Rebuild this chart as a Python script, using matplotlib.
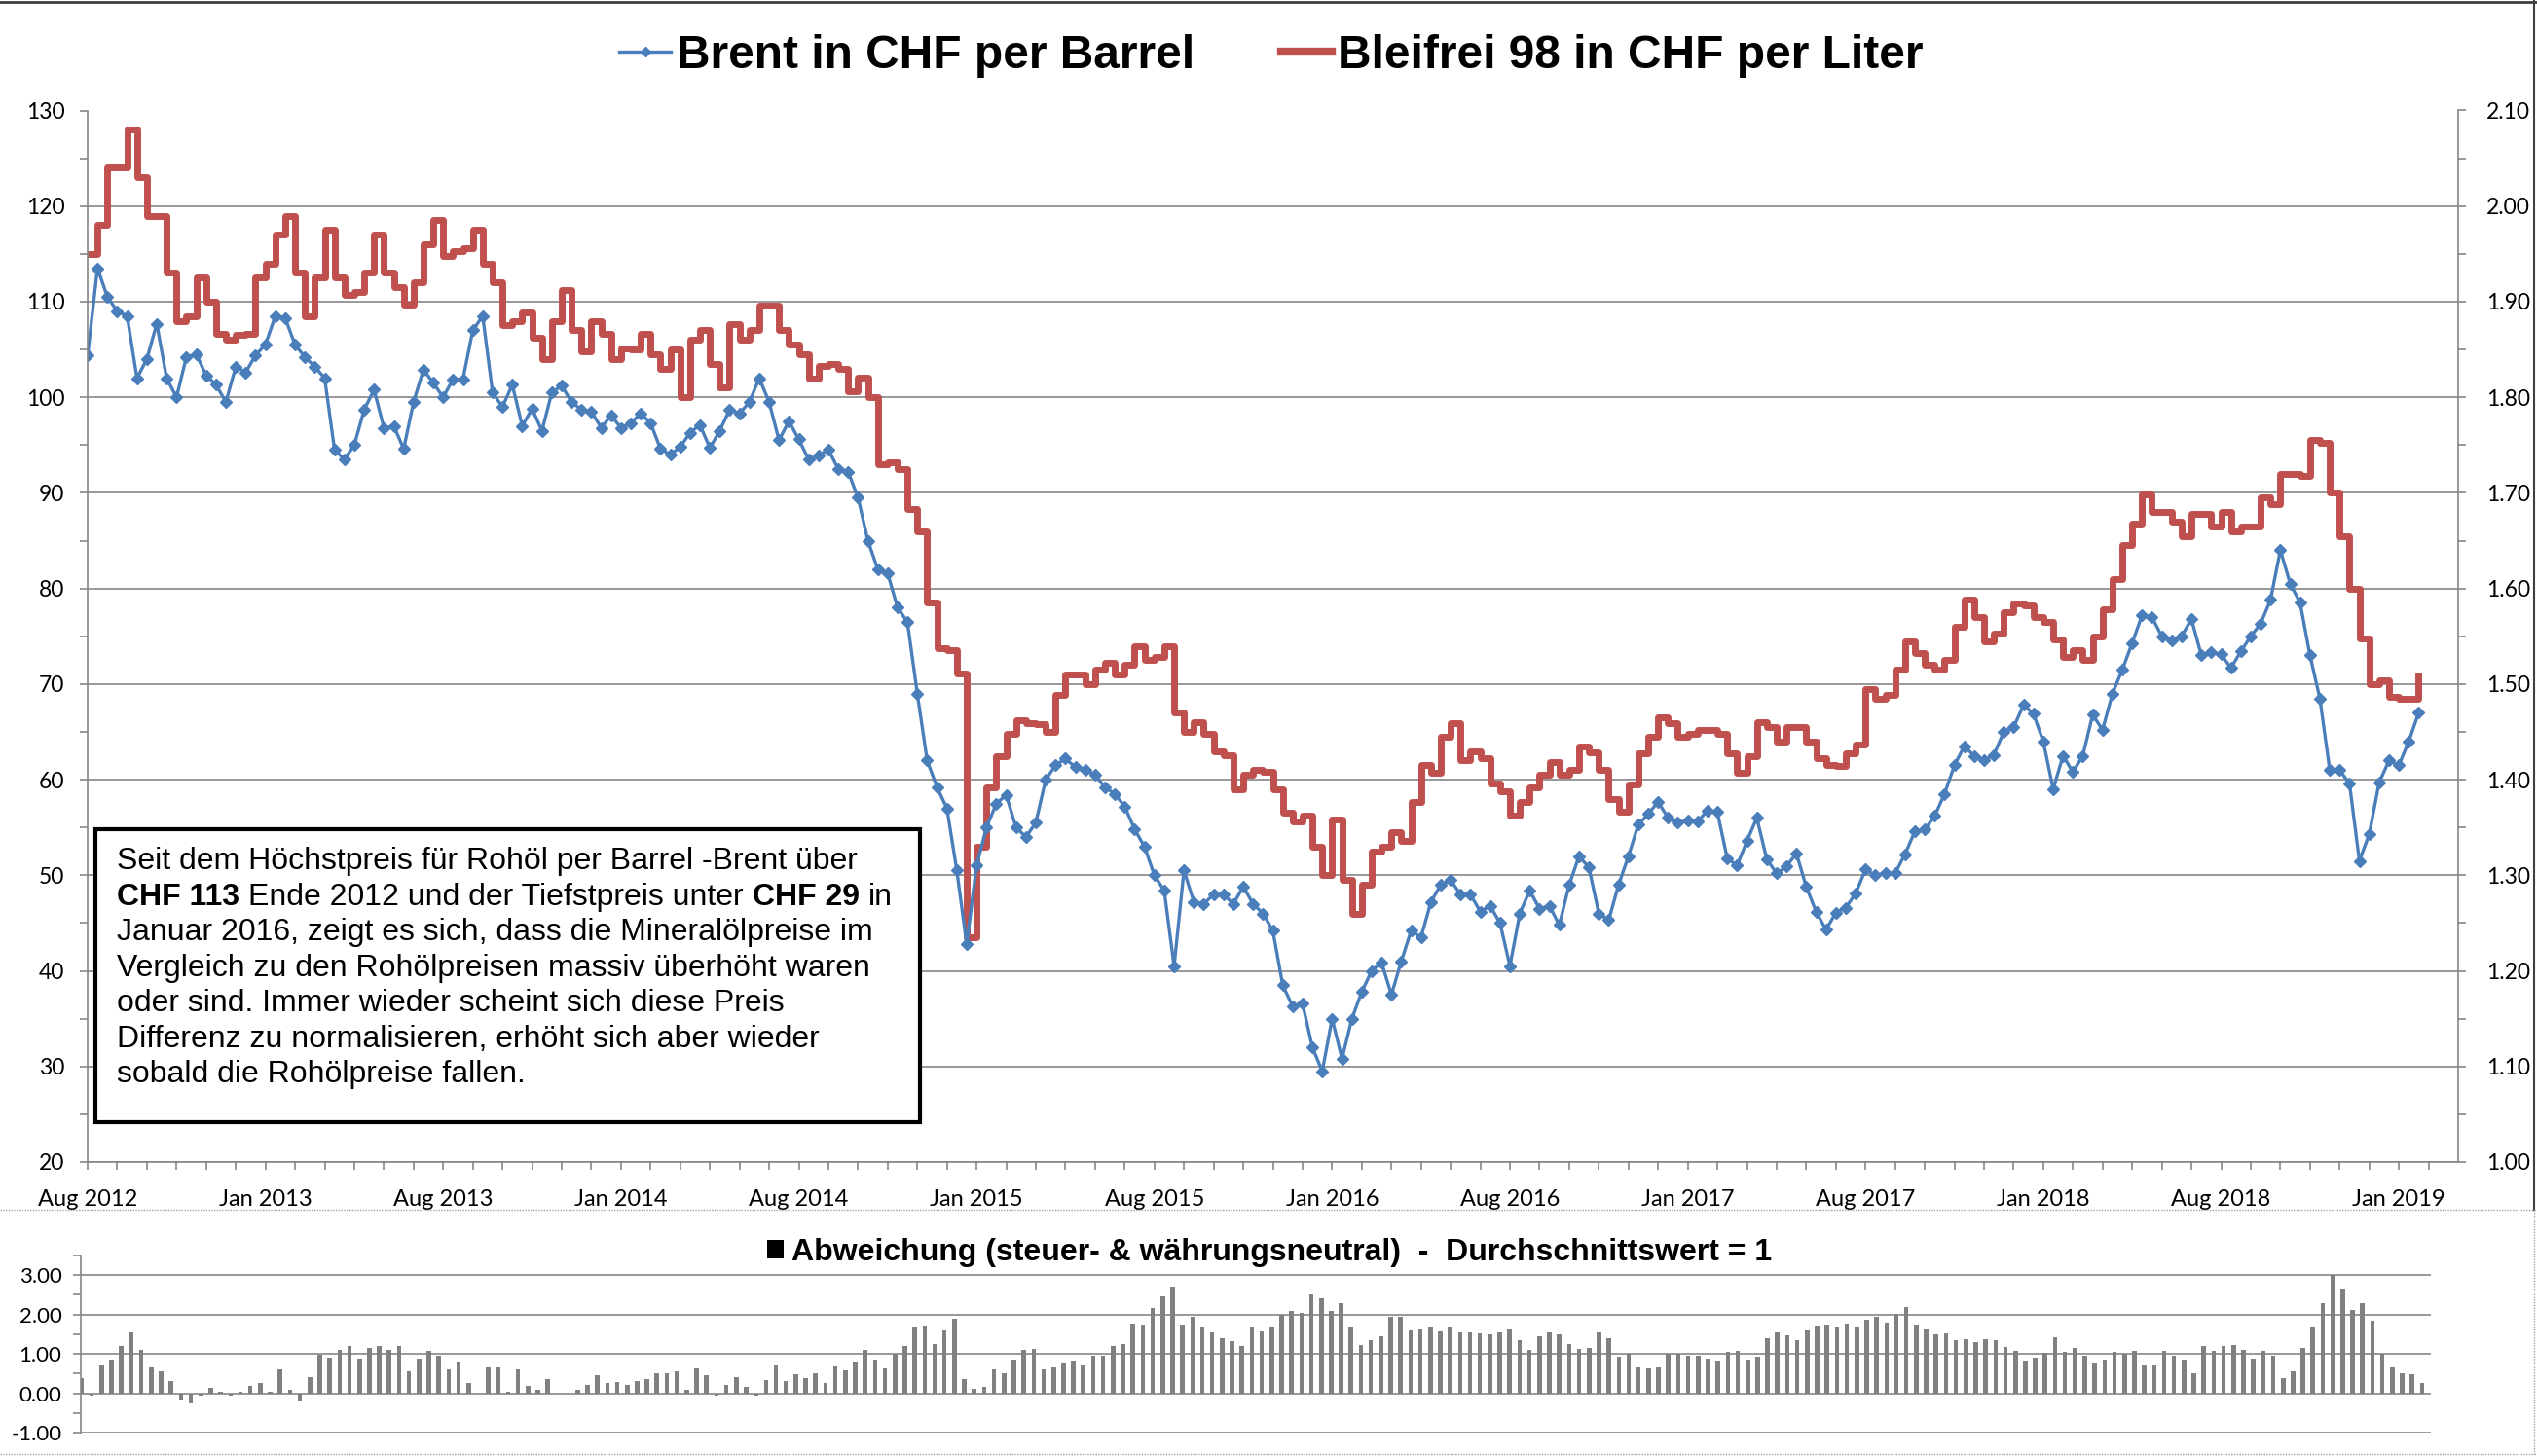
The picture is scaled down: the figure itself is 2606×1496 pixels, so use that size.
import numpy as np
import matplotlib.pyplot as plt
from matplotlib.lines import Line2D
from matplotlib.patches import Rectangle, Patch
from matplotlib.ticker import FixedLocator, MultipleLocator, FormatStrFormatter

W, H, DPI = 2606, 1496, 100

# --- Daten: 3 Werte pro Teilstrich, Beschriftung alle 18 Werte ---
month_labels = ["Aug 2012", "Jan 2013", "Aug 2013", "Jan 2014", "Aug 2014", "Jan 2015",
                "Aug 2015", "Jan 2016", "Aug 2016", "Jan 2017", "Aug 2017", "Jan 2018",
                "Aug 2018", "Jan 2019"]

# Brent in CHF pro Barrel (linke Achse)
brent_chf = [
    104.4, 113.5, 110.5, 109, 108.5, 102, 104, 107.7, 102, 100, 104.2, 104.5, 102.3, 101.3, 99.5, 103.2, 102.6, 104.4,
    105.5, 108.5, 108.3, 105.5, 104.2, 103.2, 102, 94.5, 93.5, 95, 98.7, 100.8, 96.8, 97, 94.6, 99.5, 102.9, 101.5,
    100, 101.9, 101.9, 107, 108.5, 100.5, 99, 101.3, 97, 98.8, 96.5, 100.5, 101.2, 99.5, 98.7, 98.5, 96.8, 98.1,
    96.8, 97.3, 98.3, 97.3, 94.6, 94, 94.8, 96.3, 97.1, 94.7, 96.5, 98.7, 98.3, 99.5, 102, 99.5, 95.5, 97.5,
    95.6, 93.5, 93.9, 94.5, 92.5, 92.2, 89.5, 85, 82, 81.6, 78, 76.5, 69, 62, 59.2, 57, 50.5, 42.8,
    51, 55, 57.5, 58.4, 55, 54, 55.5, 60, 61.5, 62.2, 61.3, 61, 60.5, 59.2, 58.5, 57.2, 54.8, 53,
    50, 48.4, 40.5, 50.5, 47.2, 47, 48, 48, 47, 48.8, 47, 46, 44.2, 38.5, 36.3, 36.6, 32, 29.5,
    35, 30.8, 35, 37.8, 40, 40.9, 37.5, 41, 44.2, 43.5, 47.2, 49, 49.5, 48, 48, 46.2, 46.8, 45,
    40.5, 46, 48.4, 46.5, 46.8, 44.8, 49, 52, 50.8, 46, 45.3, 49, 52, 55.3, 56.4, 57.7, 56, 55.5,
    55.7, 55.6, 56.8, 56.6, 51.8, 51, 53.6, 56, 51.7, 50.2, 50.9, 52.3, 48.8, 46.2, 44.3, 46.1, 46.6, 48.1,
    50.6, 50, 50.2, 50.2, 52.2, 54.6, 54.8, 56.2, 58.5, 61.5, 63.5, 62.5, 62, 62.6, 65, 65.5, 67.8, 66.9,
    64, 59, 62.5, 60.8, 62.5, 66.8, 65.2, 69, 71.5, 74.3, 77.2, 77, 75, 74.6, 75, 76.8, 73, 73.3,
    73.1, 71.7, 73.4, 75, 76.3, 78.8, 84, 80.5, 78.5, 73, 68.5, 61, 61, 59.6, 51.5, 54.3, 59.7, 62,
    61.5, 64, 67,
]

# Bleifrei 98 in CHF pro Liter (rechte Achse)
bleifrei_chf = [
    1.95, 1.98, 2.04, 2.04, 2.08, 2.03, 1.99, 1.99, 1.93, 1.88, 1.885, 1.925, 1.90, 1.866, 1.86, 1.865, 1.866, 1.925,
    1.94, 1.97, 1.99, 1.93, 1.885, 1.925, 1.975, 1.925, 1.907, 1.91, 1.93, 1.97, 1.93, 1.915, 1.897, 1.92, 1.96, 1.985,
    1.948, 1.953, 1.956, 1.975, 1.94, 1.92, 1.876, 1.88, 1.889, 1.862, 1.84, 1.88, 1.912, 1.87, 1.848, 1.88, 1.866, 1.84,
    1.851, 1.85, 1.866, 1.845, 1.83, 1.85, 1.80, 1.86, 1.87, 1.835, 1.81, 1.877, 1.86, 1.87, 1.896, 1.896, 1.87, 1.855,
    1.845, 1.82, 1.833, 1.835, 1.83, 1.806, 1.821, 1.80, 1.73, 1.732, 1.725, 1.683, 1.66, 1.585, 1.538, 1.536, 1.511, 1.235,
    1.33, 1.392, 1.425, 1.448, 1.462, 1.459, 1.458, 1.45, 1.489, 1.51, 1.51, 1.50, 1.515, 1.522, 1.51, 1.52, 1.54, 1.525,
    1.528, 1.54, 1.47, 1.45, 1.46, 1.448, 1.43, 1.426, 1.39, 1.405, 1.41, 1.408, 1.39, 1.365, 1.356, 1.362, 1.33, 1.30,
    1.358, 1.295, 1.26, 1.29, 1.325, 1.33, 1.345, 1.336, 1.377, 1.415, 1.407, 1.445, 1.459, 1.42, 1.43, 1.422, 1.396, 1.388,
    1.362, 1.377, 1.392, 1.405, 1.418, 1.405, 1.41, 1.435, 1.429, 1.41, 1.38, 1.366, 1.395, 1.428, 1.445, 1.465, 1.459, 1.445,
    1.448, 1.452, 1.452, 1.448, 1.428, 1.407, 1.425, 1.46, 1.455, 1.44, 1.455, 1.455, 1.44, 1.422, 1.415, 1.414, 1.428, 1.437,
    1.495, 1.485, 1.489, 1.515, 1.545, 1.532, 1.52, 1.515, 1.525, 1.56, 1.588, 1.57, 1.545, 1.553, 1.575, 1.584, 1.582, 1.57,
    1.565, 1.547, 1.528, 1.535, 1.525, 1.55, 1.578, 1.61, 1.645, 1.668, 1.698, 1.68, 1.68, 1.67, 1.655, 1.678, 1.678, 1.665,
    1.68, 1.66, 1.665, 1.665, 1.695, 1.688, 1.72, 1.72, 1.718, 1.755, 1.752, 1.70, 1.655, 1.60, 1.548, 1.50, 1.504, 1.487,
    1.485, 1.485, 1.508,
]

# Abweichung (steuer- & waehrungsneutral), Durchschnitt = 1
abweichung = [
    0.39, -0.05, 0.72, 0.85, 1.21, 1.55, 1.1, 0.66, 0.55, 0.3, -0.15, -0.25, -0.05, 0.14, 0.05, -0.07, 0.05, 0.18,
    0.26, 0.05, 0.6, 0.1, -0.19, 0.41, 0.97, 0.9, 1.1, 1.2, 0.88, 1.15, 1.2, 1.1, 1.2, 0.55, 0.88, 1.08,
    0.95, 0.6, 0.8, 0.25, 0, 0.65, 0.65, 0.05, 0.6, 0.18, 0.1, 0.35, 0, 0, 0.1, 0.22, 0.45, 0.25,
    0.28, 0.2, 0.3, 0.35, 0.52, 0.5, 0.55, 0.1, 0.62, 0.45, -0.05, 0.2, 0.42, 0.15, -0.05, 0.33, 0.72, 0.3,
    0.48, 0.39, 0.5, 0.26, 0.68, 0.58, 0.8, 1.1, 0.85, 0.64, 1.0, 1.2, 1.7, 1.72, 1.25, 1.6, 1.9, 0.35,
    0.12, 0.15, 0.6, 0.5, 0.85, 1.1, 1.12, 0.6, 0.66, 0.77, 0.82, 0.7, 0.95, 0.95, 1.2, 1.25, 1.78, 1.75,
    2.17, 2.45, 2.7, 1.75, 1.95, 1.7, 1.55, 1.4, 1.32, 1.2, 1.7, 1.57, 1.7, 2.0, 2.1, 2.05, 2.5, 2.4,
    2.1, 2.28, 1.7, 1.22, 1.35, 1.45, 1.95, 1.95, 1.6, 1.65, 1.7, 1.58, 1.7, 1.55, 1.55, 1.52, 1.5, 1.55,
    1.62, 1.34, 1.1, 1.45, 1.55, 1.5, 1.26, 1.13, 1.15, 1.55, 1.4, 0.92, 1.0, 0.65, 0.64, 0.66, 1.0, 1.0,
    0.96, 0.95, 0.88, 0.82, 1.05, 1.08, 0.85, 0.92, 1.4, 1.55, 1.48, 1.35, 1.6, 1.73, 1.75, 1.7, 1.78, 1.7,
    1.88, 1.95, 1.8, 2.02, 2.2, 1.75, 1.65, 1.5, 1.52, 1.35, 1.38, 1.3, 1.38, 1.35, 1.17, 1.07, 0.82, 0.9,
    1.03, 1.42, 1.05, 1.15, 0.95, 0.78, 0.85, 1.05, 1.0, 1.08, 0.7, 0.72, 1.08, 0.95, 0.86, 0.5, 1.2, 1.07,
    1.21, 1.22, 1.1, 0.88, 1.07, 0.95, 0.39, 0.55, 1.15, 1.7, 2.3, 3.0, 2.67, 2.12, 2.3, 1.85, 1.0, 0.65,
    0.52, 0.48, 0.26,
]

info_lines = [
    [("Seit dem Höchstpreis für Rohöl per Barrel -Brent über", False)],
    [("CHF 113", True), ("Ende 2012 und der Tiefstpreis unter", False), ("CHF 29", True), ("in", False)],
    [("Januar 2016, zeigt es sich, dass die Mineralölpreise im", False)],
    [("Vergleich zu den Rohölpreisen massiv überhöht waren", False)],
    [("oder sind. Immer wieder scheint sich diese Preis", False)],
    [("Differenz zu normalisieren, erhöht sich aber wieder", False)],
    [("sobald die Rohölpreise fallen.", False)],
]

BLUE = '#4a7ebb'
RED = '#c0504d'
GREY = '#868686'
BARS = '#808080'
SANS = ['Liberation Sans', 'DejaVu Sans']

plt.rcParams['font.family'] = ['Lato', 'DejaVu Sans']


def fx(px):
    return px / W


def fy(py):
    return 1 - py / H


fig = plt.figure(figsize=(W / DPI, H / DPI), dpi=DPI, facecolor='white')

# --- Hauptdiagramm ---
axr = fig.add_axes([fx(90), fy(1194), (2525 - 90) / W, (1194 - 113.5) / H])
ax = axr.twinx()
# Brent oben, Gitter und Bleifrei darunter
ax.set_zorder(axr.get_zorder() + 1)
ax.patch.set_visible(False)
ax.yaxis.tick_left()
ax.yaxis.set_label_position('left')
axr.yaxis.tick_right()

x = np.arange(len(brent_chf))
axr.plot(x, bleifrei_chf, color=RED, lw=5, drawstyle='steps-post')
ax.plot(x, brent_chf, color=BLUE, lw=2.4, marker='D', ms=6, mec=BLUE, mfc=BLUE)

ax.set_xlim(0, 240)
ax.set_ylim(20, 130)
axr.set_ylim(1.0, 2.1)

ax.yaxis.set_major_locator(MultipleLocator(10))
ax.yaxis.set_minor_locator(MultipleLocator(5))
axr.yaxis.set_major_locator(MultipleLocator(0.1))
axr.yaxis.set_minor_locator(MultipleLocator(0.05))
axr.yaxis.set_major_formatter(FormatStrFormatter('%.2f'))
axr.grid(axis='y', which='major', color=GREY, lw=1.2)
axr.set_axisbelow(True)

axr.set_xticks(np.arange(0, 235, 18))
axr.set_xticklabels(month_labels)
axr.xaxis.set_minor_locator(FixedLocator(np.arange(0, 240, 3)))

for a in (ax, axr):
    for s in a.spines.values():
        s.set_visible(False)
    a.tick_params(which='both', direction='out', color=GREY, width=1.2, length=6,
                  labelsize=16.5, labelcolor='black')
ax.spines['left'].set_visible(True)
ax.spines['left'].set_color(GREY)
ax.spines['left'].set_linewidth(1.2)
axr.spines['right'].set_visible(True)
axr.spines['right'].set_color(GREY)
axr.spines['right'].set_linewidth(1.2)
axr.spines['bottom'].set_visible(True)
axr.spines['bottom'].set_color(GREY)
axr.spines['bottom'].set_linewidth(1.2)
ax.tick_params(axis='y', pad=11)
axr.tick_params(axis='y', pad=15)
axr.tick_params(axis='x', labelsize=17, pad=14)
ax.tick_params(axis='x', which='both', bottom=False, labelbottom=False)

fig.legend(handles=[Line2D([], [], color=BLUE, lw=2.4, marker='D', ms=5.5),
                    Line2D([], [], color=RED, lw=6)],
           labels=["Brent in CHF per Barrel", "Bleifrei 98 in CHF per Liter"],
           loc='center', bbox_to_anchor=(fx(1306), fy(57)), ncol=2, frameon=False,
           prop={'family': SANS, 'weight': 'bold', 'size': 34.5},
           handlelength=1.1, handletextpad=0.12, columnspacing=1.85)

# --- Textkasten ---
fig.add_artist(Rectangle((fx(98), fy(1153)), (945 - 98) / W, (1153 - 852) / H,
                         transform=fig.transFigure, fc='white', ec='black', lw=3, zorder=5))
renderer = fig.canvas.get_renderer()
box_kw = dict(fontsize=23, family=SANS, va='baseline', ha='left', zorder=6)


def text_width(s, **kw):
    t = fig.text(0, 0, s, **kw)
    w = t.get_window_extent(renderer).width
    t.remove()
    return w


space_w = text_width('x x', **box_kw) - text_width('xx', **box_kw)
for i, parts in enumerate(info_lines):
    xp = 120.5
    yp = 893.5 + i * 36.4
    for s, bold in parts:
        t = fig.text(fx(xp), fy(yp), s, fontweight='bold' if bold else 'normal', **box_kw)
        xp += t.get_window_extent(renderer).width + space_w

# --- Abweichung ---
axb = fig.add_axes([fx(83), fy(1472), (2497 - 83) / W, (1472 - 1290) / H])
xb = np.arange(len(abweichung))
axb.bar(xb, abweichung, width=0.45, color=BARS, lw=0)
axb.set_xlim(-0.1, 236.9)
axb.set_ylim(-1, 3.5)
axb.yaxis.set_major_locator(FixedLocator([-1, 0, 1, 2, 3]))
axb.yaxis.set_minor_locator(MultipleLocator(0.5))
axb.yaxis.set_major_formatter(FormatStrFormatter('%.2f'))
axb.grid(axis='y', which='major', color=GREY, lw=1.2)
axb.set_axisbelow(True)
axb.set_xticks([])
for s in ('top', 'right', 'bottom'):
    axb.spines[s].set_visible(False)
axb.spines['left'].set_color(GREY)
axb.spines['left'].set_linewidth(1.2)
axb.tick_params(axis='y', which='both', direction='out', color=GREY, width=1.2, length=6,
                labelsize=16, pad=8)

fig.legend(handles=[Patch(facecolor='black', edgecolor='none')],
           labels=["Abweichung (steuer- & währungsneutral)  -  Durchschnittswert = 1"],
           loc='center', bbox_to_anchor=(fx(1304), fy(1287)), frameon=False,
           prop={'family': SANS, 'weight': 'bold', 'size': 23},
           handlelength=0.55, handleheight=0.55, handletextpad=0.25)

# --- Rahmen ---
fig.add_artist(Line2D([0, 1], [fy(2), fy(2)], transform=fig.transFigure, color='#404040', lw=2))
fig.add_artist(Line2D([fx(2603), fx(2603)], [fy(0), fy(1243)], transform=fig.transFigure,
                      color='#404040', lw=1.5))
for yy in (1243, 1494):
    fig.add_artist(Line2D([0, 1], [fy(yy), fy(yy)], transform=fig.transFigure,
                          color='#a0a0a0', lw=1, ls=(0, (1, 1))))
fig.add_artist(Line2D([fx(2603), fx(2603)], [fy(1243), fy(1496)], transform=fig.transFigure,
                      color='#a0a0a0', lw=1, ls=(0, (1, 1))))

fig.savefig('out.png', dpi=DPI, facecolor='white')
